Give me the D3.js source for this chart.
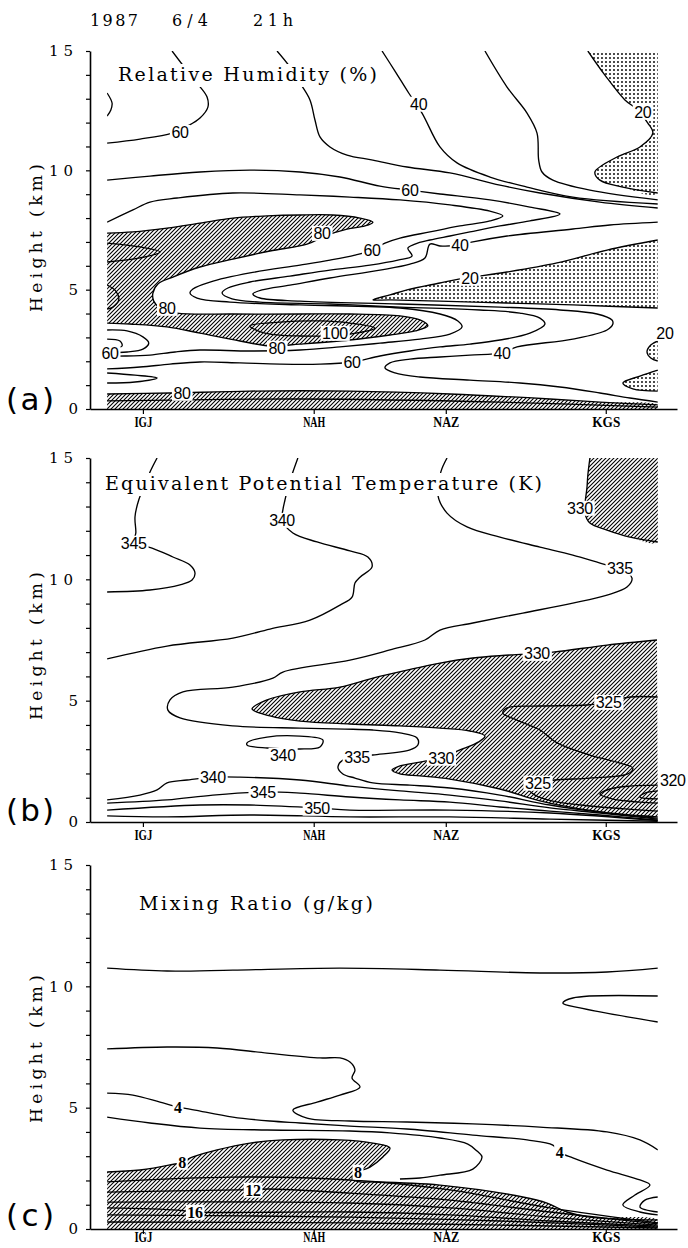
<!DOCTYPE html>
<html lang="en">
<head>
<meta charset="UTF-8">
<title>Cross sections 1987 6/4 21h</title>
<script src="https://d3js.org/d3.v7.min.js"></script>
<style>
  body { margin: 0; background: #fff; }
  svg { display: block; }
</style>
</head>
<body>
<svg width="688" height="1248"></svg>
<script>
// stations along the cross section, distance from IGJ in km
const stations = ["IGJ", "NAH", "NAZ", "KGS"];
const stationKm = [0, 410, 727, 1111];
const stationLabelW = [18, 22, 26, 28];
const heightTicks = d3.range(0, 16);
const heightLabels = [0, 5, 10, 15];
const distDomain = [-127, 1282];
const dataEdge = [-86, 1236];

// ---- (a) relative humidity, contour lines as [km, height] ----
const rhEdgeLoop = [[-86,13.24],[-74,12.82],[-77,12.53],[-86,12.27]];
const rh60Top = [[70,15],[101,14.29],[134,13.57],[154,13.07],[156,12.65],[137,12.19],[108,11.86],[70,11.56],[-7,11.31],[-86,11.14]];
const rhUpperA = [[322,15],[353,14.33],[377,13.66],[401,12.95],[413,12.11],[425,11.4],[449,10.98],[490,10.64],[552,10.43],[634,10.14],[737,9.89],[857,9.38],[953,9.05],[1097,8.67],[1236,8.42]];
const rh40Top = [[574,15],[605,14.16],[638,13.24],[670,12.4],[713,10.98],[754,10.31],[833,9.72],[922,9.3],[1032,8.88],[1236,8.59]];
const rhUpperB = [[821,15],[874,13.49],[922,12.4],[946,11.56],[950,10.43],[958,9.93],[984,9.59],[1073,9.17],[1236,8.76]];
const rh20Top = [[1068,15],[1109,13.99],[1157,12.95],[1188,12.53],[1212,11.98],[1224,11.56],[1193,10.98],[1138,10.56],[1085,9.93],[1097,9.59],[1152,9.3],[1236,9.05]];
const rh60Mid = [[-86,9.59],[17,9.76],[137,9.93],[257,10.01],[377,9.93],[473,9.72],[569,9.34],[641,9.17],[713,9.01],[833,8.76],[929,8.46],[1001,8.17],[929,7.88],[857,7.67],[785,7.42],[737,7.25],[689,7.08],[653,6.91],[636,6.74],[646,6.41],[612,6.24],[545,6.03],[449,5.82],[353,5.57],[257,5.32],[204,5.07],[190,4.86],[214,4.61],[281,4.48],[449,4.4],[617,4.27],[809,4.15],[905,4.02],[953,3.81],[965,3.56],[929,3.18],[857,2.89],[785,2.72],[713,2.6],[641,2.43],[569,2.22],[502,1.97],[425,1.88],[329,1.88],[233,1.93],[137,1.97],[65,1.88],[-7,1.76],[-86,1.68]];
const rh60Band = [[-86,7.83],[-24,8.34],[17,8.67],[82,8.84],[216,9.05],[377,8.97],[497,8.88],[617,8.76],[737,8.55],[833,8.29],[864,8.09],[833,7.88],[761,7.67],[689,7.42],[617,7.16],[581,6.95],[550,6.66],[509,6.45],[449,6.24],[377,6.03],[257,5.7],[161,5.32],[120,5.03],[113,4.86],[130,4.65],[209,4.48],[377,4.36],[617,4.23],[713,3.98],[756,3.69],[766,3.44],[737,3.14],[665,2.93],[569,2.76],[473,2.6],[377,2.47],[257,2.43],[137,2.47],[77,2.39],[17,2.26],[-43,2.22],[-86,2.22]];
const rh40Band = [[1236,7.83],[1121,7.71],[1032,7.54],[874,7.25],[792,7.0],[761,6.87],[713,6.83],[689,6.91],[677,6.33],[641,6.07],[569,5.82],[449,5.49],[353,5.19],[286,4.99],[264,4.82],[281,4.65],[377,4.52],[617,4.4],[857,4.27],[1001,4.15],[1090,3.98],[1126,3.73],[1128,3.56],[1114,3.31],[1032,2.93],[898,2.6],[862,2.35],[785,2.26],[713,2.18],[641,2.09],[593,1.93],[581,1.72],[605,1.51],[665,1.34],[785,1.21],[905,1.09],[1001,0.92],[1097,0.67],[1169,0.46],[1236,0.29]];
const rh80Upper = [[-86,7.37],[-24,7.42],[58,7.58],[137,7.79],[216,8.0],[298,8.09],[377,8.13],[456,8.13],[521,8.0],[552,7.83],[533,7.67],[490,7.54],[437,7.25],[394,6.91],[305,6.62],[216,6.28],[137,5.95],[72,5.53],[36,5.24],[24,4.86],[26,4.52],[41,4.23],[82,4.02],[216,3.98],[377,3.98],[497,3.98],[617,3.9],[665,3.73],[684,3.48],[653,3.27],[593,3.1],[497,2.89],[377,2.72],[305,2.64],[233,2.85],[137,3.18],[58,3.44],[-31,3.56],[-86,3.6]];
const rh100Core = [[257,3.48],[329,3.64],[425,3.69],[497,3.6],[557,3.39],[497,3.14],[377,3.06],[293,3.18]];
const rh80Low = [[-86,0.63],[65,0.67],[257,0.75],[497,0.75],[737,0.63],[977,0.42],[1097,0.29],[1236,0.17]];
const rhNearGround = [[-86,0.34],[377,0.42],[857,0.29],[1236,0.08]];
const rh20Band = [[1236,7.08],[1114,6.66],[994,6.12],[874,5.74],[761,5.45],[713,5.28],[634,4.99],[593,4.78],[552,4.57],[593,4.57],[713,4.52],[874,4.44],[1032,4.36],[1236,4.23]];
const rh20Right = [[1236,2.85],[1219,2.68],[1210,2.39],[1219,2.14],[1236,2.01]];
const rh20Low = [[1236,1.63],[1193,1.38],[1152,1.09],[1176,0.84],[1236,0.75]];
const rhSmallA = [[-86,3.31],[-38,3.27],[0,3.02],[14,2.76],[0,2.51],[-38,2.39],[-86,2.35]];
const rhSmallB = [[-86,2.93],[-55,2.85],[-50,2.64],[-86,2.56]];
const rhSmallC = [[-86,1.51],[-19,1.42],[34,1.3],[-19,1.13],[-86,1.09]];
const rhInHatchA = [[-86,6.95],[-7,6.79],[41,6.58],[-7,6.33],[-86,6.16]];
const rhInHatchB = [[-86,5.19],[-65,4.94],[-58,4.57],[-72,4.27],[-86,4.19]];
const rhLabels = [["60",89,11.6],["40",662,12.78],["20",1200,12.44],["60",641,9.17],["80",430,7.37],["60",550,6.66],["40",761,6.87],["20",785,5.49],["80",58,4.23],["100",461,3.18],["80",322,2.56],["60",-79,2.35],["60",502,1.97],["40",862,2.35],["20",1253,3.18],["80",94,0.67]];

// ---- (b) equivalent potential temperature ----
const th345Top = [[34,15],[17,14.42],[5,13.89],[-10,13.27],[-19,12.57],[-17,11.91],[-22,11.5],[22,11.29],[72,10.92],[113,10.59],[125,10.26],[118,9.97],[89,9.77],[17,9.56],[-86,9.48]];
const th340Top = [[372,15],[360,14.42],[348,13.76],[341,13.27],[336,12.86],[334,12.44],[360,11.91],[418,11.54],[497,11.17],[540,10.92],[550,10.51],[521,10.09],[509,9.85],[502,9.27],[473,8.94],[401,8.32],[305,7.95],[216,7.58],[58,7.25],[-86,6.72]];
const th335 = [[730,15],[715,14.42],[708,13.47],[730,12.73],[778,12.16],[857,11.74],[953,11.33],[1032,11.0],[1114,10.59],[1145,10.47],[1174,10.05],[1162,9.68],[1114,9.35],[1032,9.02],[912,8.61],[792,8.2],[713,7.91],[677,7.5],[593,7.09],[497,6.67],[336,6.18],[312,5.93],[216,5.56],[96,5.36],[65,5.03],[60,4.61],[89,4.29],[216,3.96],[377,3.87],[485,3.83],[552,3.79],[617,3.67],[658,3.46],[660,3.17],[641,2.97],[552,2.76],[514,2.68],[480,2.55],[468,2.27],[480,1.98],[509,1.81],[552,1.61],[641,1.52],[737,1.4],[857,1.11],[977,0.7],[1097,0.41],[1236,0.16]];
const th340Low = [[-86,0.91],[-7,1.11],[34,1.32],[58,1.61],[106,1.73],[168,1.85],[233,1.85],[377,1.73],[497,1.48],[617,1.28],[737,1.11],[857,0.87],[977,0.58],[1097,0.37],[1236,0.12]];
const th345Low = [[-86,0.78],[58,0.91],[168,1.11],[288,1.24],[377,1.19],[497,1.03],[617,0.91],[737,0.82],[857,0.62],[977,0.45],[1097,0.29],[1236,0.08]];
const th350 = [[-86,0.49],[137,0.7],[257,0.7],[418,0.58],[497,0.49],[737,0.49],[977,0.37],[1236,0.06]];
const thGround = [[-86,0.25],[58,0.21],[257,0.29],[497,0.21],[737,0.21],[977,0.12],[1236,0.03]];
const th340Cell = [[250,3.26],[298,3.5],[377,3.54],[432,3.38],[425,3.09],[377,3.01],[298,3.05],[250,3.17]];
const th330Main = [[1234,7.5],[1114,7.29],[984,7.0],[881,6.88],[792,6.76],[713,6.55],[634,6.26],[552,5.93],[473,5.56],[377,5.36],[298,5.03],[262,4.66],[305,4.37],[377,4.16],[497,4.04],[617,3.96],[713,3.87],[785,3.75],[821,3.54],[806,3.3],[761,2.97],[713,2.64],[665,2.47],[617,2.31],[598,2.14],[617,1.98],[665,1.9],[737,1.77],[857,1.36],[953,0.87],[1049,0.54],[1145,0.33],[1236,0.21]];
const th325 = [[1236,5.15],[1169,5.15],[1114,4.94],[1066,4.82],[953,4.78],[874,4.7],[864,4.49],[898,4.2],[953,3.79],[994,3.26],[1073,2.76],[1145,2.43],[1176,2.22],[1164,1.98],[1073,1.81],[989,1.73],[946,1.61],[922,1.44],[941,1.11],[984,0.86],[1073,0.66],[1157,0.54],[1236,0.45]];
const th320a = [[1236,1.52],[1169,1.48],[1121,1.36],[1097,1.15],[1126,0.95],[1193,0.82],[1236,0.78]];
const th320b = [[1236,1.28],[1205,1.19],[1193,1.03],[1236,0.95]];
const th330Top = [[1073,15],[1068,14.3],[1066,13.8],[1061,12.73],[1073,12.32],[1114,12.03],[1169,11.74],[1236,11.54]];
const thLabels = [["345",-22,11.5],["340",334,12.44],["335",1145,10.47],["330",1049,12.94],["330",946,6.96],["325",1118,4.94],["340",336,2.76],["335",514,2.68],["330",716,2.64],["325",948,1.61],["320",1272,1.73],["340",168,1.85],["345",288,1.24],["350",418,0.58]];

// ---- (c) mixing ratio ----
const mrTop = [[-86,10.75],[58,10.63],[216,10.67],[473,10.75],[713,10.67],[953,10.55],[1114,10.59],[1236,10.75]];
const mrTongue = [[1236,9.6],[1032,9.52],[1008,9.31],[1049,9.11],[1236,8.53]];
const mrUpper = [[-86,7.42],[58,7.5],[178,7.46],[298,7.25],[425,7.05],[473,7.05],[497,6.88],[509,6.55],[502,6.22],[521,5.85],[473,5.52],[418,5.23],[360,4.9],[394,4.57],[497,4.45],[634,4.41],[792,4.33],[953,4.2],[1114,4.0],[1193,3.67],[1236,3.26]];
const mr4 = [[-86,5.6],[-24,5.52],[41,5.23],[84,5.03],[125,4.9],[216,4.61],[305,4.45],[377,4.37],[497,4.24],[634,4.12],[792,3.87],[922,3.67],[984,3.46],[1000,3.17],[1032,2.93],[1114,2.43],[1193,2.02],[1217,1.81],[1181,1.4],[1152,0.99],[1193,0.7],[1236,0.58]];
const mrMid = [[-86,4.61],[17,4.37],[137,4.16],[298,4.08],[497,4.04],[593,3.96],[713,3.75],[780,3.5],[802,3.21],[814,2.97],[792,2.47],[713,2.22],[665,2.1],[617,2.06]];
const mr8 = [[-86,2.35],[-7,2.43],[65,2.64],[94,2.76],[120,2.97],[178,3.26],[257,3.54],[336,3.67],[473,3.67],[552,3.54],[593,3.34],[576,2.97],[545,2.55],[516,2.35],[502,2.1],[521,1.94],[552,1.94],[713,1.81],[912,1.32],[970,1.07],[1018,0.7],[1073,0.49],[1236,0.37]];
const mrIn1 = [[-86,1.94],[216,2.14],[497,2.02],[737,1.61],[977,0.87],[1236,0.25]];
const mr12 = [[-86,1.52],[233,1.61],[264,1.61],[298,1.65],[497,1.48],[737,1.19],[977,0.7],[1236,0.21]];
const mrIn2 = [[-86,1.11],[497,1.07],[737,0.87],[977,0.49],[1236,0.16]];
const mr16 = [[-86,0.87],[82,0.78],[125,0.7],[497,0.7],[737,0.58],[977,0.33],[1236,0.12]];
const mrIn3 = [[-86,0.58],[497,0.49],[857,0.33],[1236,0.08]];
const mrIn4 = [[-86,0.29],[497,0.25],[857,0.16],[1236,0.04]];
const mrSmall = [[1236,1.32],[1205,1.19],[1193,0.91],[1236,0.7]];
const mrLabels = [["4",84,5.03],["4",1000,3.17],["8",94,2.76],["8",516,2.35],["12",264,1.61],["16",125,0.7]];

const FONT_SERIF = "'DejaVu Serif', 'Liberation Serif', serif";
const FONT_NUM = "'Liberation Sans', Arial, sans-serif";
const FONT_NUM_C = "'Liberation Serif', serif";

const panels = [
  { key: "a", top: 51, bottom: 409, title: "Relative Humidity (%)", titleX: 118, titleW: 259, titleY: 81,
    letter: "(a)", letterY: 410, yTitle: 238, stationDy: 7, stationSize: 15,
    lines: [rhEdgeLoop, rh60Top, rhUpperA, rh40Top, rhUpperB, rh20Top, rh60Mid, rh60Band, rh40Band, rh80Upper,
            rh80Low, rhNearGround, rh20Band, rh20Right, rh20Low, rhSmallA, rhSmallB, rhSmallC, rhInHatchA, rhInHatchB],
    loops: [rh100Core],
    fills: [
      { type: "dots", pts: rh20Top.concat([[1236, 15]]) },
      { type: "hatch", pts: rh80Upper },
      { type: "hatch", pts: rh80Low.concat([[1236, 0], [-86, 0]]) },
      { type: "dots", pts: rh20Band },
      { type: "dots", pts: rh20Right },
      { type: "dots", pts: rh20Low }
    ],
    labels: rhLabels, labelFont: FONT_NUM, labelWeight: "normal" },
  { key: "b", top: 458, bottom: 822, title: "Equivalent Potential Temperature (K)", titleX: 105, titleW: 437, titleY: 490,
    letter: "(b)", letterY: 821, yTitle: 646, stationDy: 7, stationSize: 15,
    lines: [th345Top, th340Top, th335, th340Low, th345Low, th350, thGround, th330Main, th325, th320a, th320b, th330Top],
    loops: [th340Cell],
    fills: [
      { type: "hatch", pts: th330Top.concat([[1236, 15]]) },
      { type: "hatch", pts: th330Main }
    ],
    labels: thLabels, labelFont: FONT_NUM, labelWeight: "normal" },
  { key: "c", top: 865, bottom: 1229, title: "Mixing Ratio (g/kg)", titleX: 139, titleW: 234, titleY: 910,
    letter: "(c)", letterY: 1226, yTitle: 1049, stationDy: 3, stationSize: 14,
    lines: [mrTop, mrTongue, mrUpper, mr4, mrMid, mr8, mrIn1, mr12, mrIn2, mr16, mrIn3, mrIn4, mrSmall],
    loops: [],
    fills: [ { type: "hatch", pts: mr8.concat([[1236, 0], [-86, 0]]) } ],
    labels: mrLabels, labelFont: FONT_NUM_C, labelWeight: "bold" }
];

const svg = d3.select("svg");
const defs = svg.append("defs");

const hatch = defs.append("pattern").attr("id", "hatch")
  .attr("patternUnits", "userSpaceOnUse").attr("width", 4).attr("height", 4);
hatch.append("path").attr("d", "M-1,1 L1,-1 M0,4 L4,0 M3,5 L5,3")
  .attr("stroke", "#000").attr("stroke-width", 1.1);

const dots = defs.append("pattern").attr("id", "dots")
  .attr("patternUnits", "userSpaceOnUse").attr("width", 4).attr("height", 4);
dots.append("circle").attr("cx", 2).attr("cy", 2).attr("r", 0.95).attr("fill", "#000");

// header
[["1987", 90, 48], ["6/4", 172, 36], ["21h", 253, 40]].forEach(([t, x0, w]) => {
  svg.append("text").attr("x", x0).attr("y", 26)
    .attr("font-family", FONT_SERIF).attr("font-size", 16)
    .attr("textLength", w).attr("lengthAdjust", "spacing").text(t);
});

function addLabel(g, text, px, py, font, weight, size) {
  const lg = g.append("g");
  const r = lg.append("rect").attr("fill", "#fff");
  const t = lg.append("text").attr("x", px).attr("y", py)
    .attr("text-anchor", "middle").attr("dy", "0.36em")
    .attr("font-family", font).attr("font-weight", weight)
    .attr("font-size", size).attr("letter-spacing", -0.3).text(text);
  const bb = t.node().getBBox();
  r.attr("x", bb.x - 1.5).attr("y", bb.y + 1).attr("width", bb.width + 3).attr("height", bb.height - 2);
}

panels.forEach(p => {
  const x = d3.scaleLinear().domain(distDomain).range([90, 677]);
  const y = d3.scaleLinear().domain([0, 15]).range([p.bottom, p.top]);
  const g = svg.append("g");

  const clipId = "clip-" + p.key;
  defs.append("clipPath").attr("id", clipId).append("rect")
    .attr("x", x(dataEdge[0])).attr("y", y(15))
    .attr("width", x(dataEdge[1]) - x(dataEdge[0])).attr("height", y(0) - y(15));
  const plot = g.append("g").attr("clip-path", `url(#${clipId})`);

  const line = d3.line().x(d => x(d[0])).y(d => y(d[1])).curve(d3.curveCatmullRom.alpha(0.5));
  const loop = d3.line().x(d => x(d[0])).y(d => y(d[1])).curve(d3.curveCatmullRomClosed.alpha(0.5));

  p.fills.forEach(f => {
    plot.append("path").attr("d", line(f.pts) + "Z").attr("fill", `url(#${f.type})`);
  });
  p.lines.forEach(l => {
    plot.append("path").attr("d", line(l)).attr("fill", "none")
      .attr("stroke", "#000").attr("stroke-width", 1.35).attr("stroke-linejoin", "round");
  });
  p.loops.forEach(l => {
    plot.append("path").attr("d", loop(l)).attr("fill", "none")
      .attr("stroke", "#000").attr("stroke-width", 1.35);
  });

  // title with white background (lines pass behind it)
  g.append("rect").attr("x", p.titleX - 3).attr("y", p.titleY - 17)
    .attr("width", p.titleW + 6).attr("height", 23).attr("fill", "#fff");
  g.append("text").attr("x", p.titleX).attr("y", p.titleY)
    .attr("font-family", FONT_SERIF).attr("font-size", 19)
    .attr("textLength", p.titleW).attr("lengthAdjust", "spacing").text(p.title);

  p.labels.forEach(([t, km, h]) => addLabel(g, t, x(km), y(h), p.labelFont, p.labelWeight, 16));

  // axes
  const ax = g.append("g").attr("transform", `translate(0,${y(0)})`)
    .call(d3.axisBottom(x).tickValues(stationKm).tickSize(5).tickSizeOuter(0)
      .tickFormat((d, i) => stations[i]));
  ax.select(".domain").attr("stroke-width", 1.6);
  ax.selectAll(".tick line").attr("stroke-width", 1.2);
  ax.selectAll(".tick text")
    .attr("y", p.stationDy).attr("font-family", "'Liberation Serif', serif")
    .attr("font-size", p.stationSize).attr("font-weight", "bold")
    .attr("textLength", (d, i) => stationLabelW[i]).attr("lengthAdjust", "spacingAndGlyphs");

  const ay = g.append("g").attr("transform", "translate(90,0)")
    .call(d3.axisLeft(y).tickValues(heightTicks).tickSize(4).tickSizeOuter(0).tickFormat(""));
  ay.select(".domain").attr("stroke-width", 1.6);
  ay.selectAll(".tick line").attr("stroke-width", 1.2);

  heightLabels.forEach(v => {
    g.append("text").attr("x", 78).attr("y", y(v)).attr("dy", "0.36em")
      .attr("text-anchor", "end").attr("font-family", FONT_SERIF).attr("font-size", 15)
      .attr("letter-spacing", v >= 10 ? 5 : 0).text(v);
  });

  g.append("text").attr("transform", `translate(42,${p.yTitle}) rotate(-90)`)
    .attr("text-anchor", "middle").attr("font-family", FONT_SERIF).attr("font-size", 17)
    .attr("textLength", 148).attr("lengthAdjust", "spacing").text("Height (km)");

  g.append("text").attr("x", 6).attr("y", p.letterY)
    .attr("font-family", "'DejaVu Sans', sans-serif").attr("font-size", 31)
    .attr("textLength", 48).attr("lengthAdjust", "spacing").text(p.letter);
});
</script>
</body>
</html>
